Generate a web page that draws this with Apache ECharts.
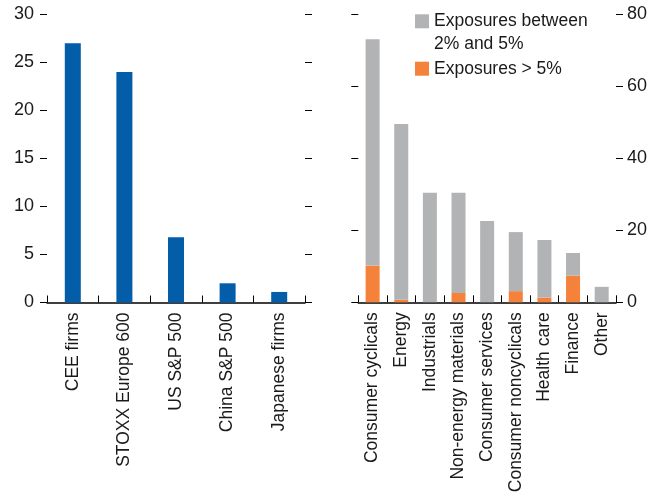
<!DOCTYPE html>
<html>
<head>
<meta charset="utf-8">
<script src="https://cdn.jsdelivr.net/npm/echarts@6/dist/echarts.min.js"></script>
<style>
html,body{margin:0;padding:0;background:#fff;}
#chart{width:662px;height:495px;}
</style>
</head>
<body>
<div id="chart"></div>
<script>
const leftCategories = ['CEE firms', 'STOXX Europe 600', 'US S&P 500', 'China S&P 500', 'Japanese firms'];
const leftValues = [27, 24, 6.8, 2, 1.1];
const leftTicks = { min: 0, max: 30, interval: 5 };

const sectorCategories = ['Consumer cyclicals', 'Energy', 'Industrials', 'Non-energy materials', 'Consumer services', 'Consumer noncyclicals', 'Health care', 'Finance', 'Other'];
const exposuresAbove5 = [10.2, 0.7, 0, 2.6, 0, 3.1, 1.3, 7.4, 0];
const exposures2to5 = [62.9, 48.8, 30.4, 27.8, 22.6, 16.4, 16.0, 6.3, 4.3];
const rightTicks = { min: 0, max: 80, interval: 20 };

const seriesNames = ['Exposures between\n2% and 5%', 'Exposures > 5%'];

const FONT = '"Liberation Sans", Arial, sans-serif';
const TXT = '#1a1a1a';
const FS = 17.5;

const chart = echarts.init(document.getElementById('chart'), null, { renderer: 'canvas' });

function yAxis(grid, pos, ticks, showLabel, margin) {
  return {
    type: 'value', gridIndex: grid, position: pos,
    min: ticks.min, max: ticks.max, interval: ticks.interval,
    axisLine: { show: false },
    axisTick: { show: true, inside: false, length: 7, lineStyle: { color: '#000', width: 1 } },
    axisLabel: { show: showLabel, margin: margin, color: TXT, fontFamily: FONT, fontSize: 18 },
    splitLine: { show: false }
  };
}
function xAxis(grid, cats) {
  return {
    type: 'category', gridIndex: grid, data: cats, boundaryGap: true,
    axisLine: { show: true, lineStyle: { color: '#000', width: 1.5 } },
    axisTick: { show: true, inside: true, length: 7, alignWithLabel: false, interval: 0, lineStyle: { color: '#000', width: 1 } },
    axisLabel: { interval: 0, rotate: 90, margin: 10, color: TXT, fontFamily: FONT, fontSize: FS }
  };
}

// first legend: leading empty line so the icon sits beside the first text line
function legend(name, top, lead) {
  return {
    orient: 'vertical', left: 415, top: top, padding: 0,
    itemWidth: 14, itemHeight: 14, icon: 'rect',
    formatter: (n) => (lead ? '\n' : '') + n,
    textStyle: { fontFamily: FONT, fontSize: FS, color: TXT, lineHeight: 23 },
    data: [name]
  };
}

chart.setOption({
  animation: false,
  backgroundColor: '#fff',
  textStyle: { fontFamily: FONT, color: TXT },
  grid: [
    { left: 47, top: 14.5, width: 258, height: 288, outerBoundsMode: 'none', containLabel: false },
    { left: 358.3, top: 14.3, width: 257.7, height: 288, outerBoundsMode: 'none', containLabel: false }
  ],
  legend: [legend(seriesNames[0], -13.2, true), legend(seriesNames[1], 57.2, false)],
  xAxis: [xAxis(0, leftCategories), xAxis(1, sectorCategories)],
  yAxis: [
    yAxis(0, 'left', leftTicks, true, 13),
    yAxis(0, 'right', leftTicks, false, 8),
    yAxis(1, 'left', rightTicks, false, 8),
    yAxis(1, 'right', rightTicks, true, 11)
  ],
  series: [
    { type: 'bar', xAxisIndex: 0, yAxisIndex: 0, data: leftValues, barWidth: 16, itemStyle: { color: '#035DA8' } },
    { type: 'bar', name: seriesNames[1], xAxisIndex: 1, yAxisIndex: 3, stack: 'exp', data: exposuresAbove5, barWidth: 14, itemStyle: { color: '#F4823B' } },
    { type: 'bar', name: seriesNames[0], xAxisIndex: 1, yAxisIndex: 3, stack: 'exp', data: exposures2to5, barWidth: 14, itemStyle: { color: '#B2B3B5' } }
  ]
});
</script>
</body>
</html>
